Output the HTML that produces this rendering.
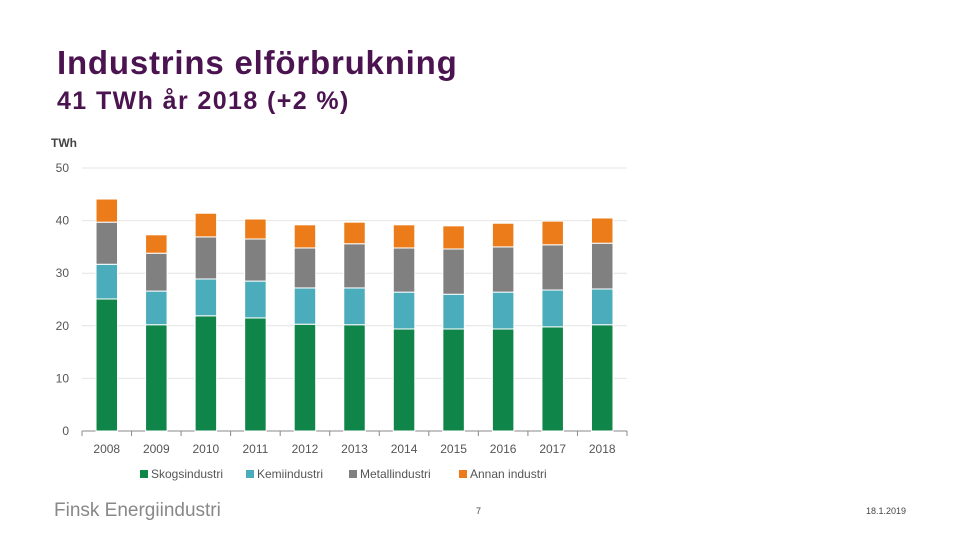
<!DOCTYPE html>
<html><head><meta charset="utf-8"><style>
body{margin:0;width:960px;height:540px;background:#fff;overflow:hidden;font-family:"Liberation Sans",sans-serif;position:relative}
.t{position:absolute;color:#4b1450;font-family:"Liberation Sans",sans-serif}
</style></head><body>
<div class="t" style="left:57px;top:44px;font-size:33px;font-weight:bold;letter-spacing:0.8px;">Industrins elförbrukning</div>
<div class="t" style="left:57px;top:87px;font-size:25px;font-weight:bold;letter-spacing:1.4px;">41 TWh år 2018 (+2 %)</div>
<svg id="c" width="960" height="540" style="position:absolute;left:0;top:0"></svg>
<div style="position:absolute;left:54px;top:500px;font-size:19px;color:#888;">Finsk Energiindustri</div>
<div style="position:absolute;left:476px;top:506px;font-size:9px;color:#444;">7</div>
<div style="position:absolute;left:866px;top:506px;font-size:9px;color:#444;">18.1.2019</div>
<script>
const years=["2008","2009","2010","2011","2012","2013","2014","2015","2016","2017","2018"];
const skog=[25.1,20.2,21.9,21.5,20.3,20.2,19.4,19.4,19.4,19.8,20.2];
const kemi=[6.6,6.4,7.0,7.0,6.9,7.0,7.0,6.6,7.0,7.0,6.8];
const metall=[8.0,7.2,8.0,8.0,7.6,8.4,8.4,8.6,8.6,8.6,8.7];
const annan=[4.4,3.5,4.5,3.8,4.4,4.1,4.4,4.4,4.5,4.5,4.8];
const ticks=[0,10,20,30,40,50];
const series=[{n:"Skogsindustri",v:skog,c:"#10854a"},{n:"Kemiindustri",v:kemi,c:"#4bacbc"},{n:"Metallindustri",v:metall,c:"#808080"},{n:"Annan industri",v:annan,c:"#ec7c1a"}];
const svg=document.getElementById('c');const NS="http://www.w3.org/2000/svg";
const y0=431,py=5.26,x0=82,x1=627,step=(x1-x0)/years.length,bw=21.5;
const Y=v=>y0-v*py, X=i=>x0+step*(i+0.5);
function mk(t,a,txt){const e=document.createElementNS(NS,t);for(const k in a)e.setAttribute(k,a[k]);if(txt!=null)e.textContent=txt;svg.appendChild(e);return e;}
let e=mk('text',{x:51,y:147,'font-size':12,'font-weight':'bold',fill:'#444'},'TWh');

ticks.forEach(t=>{
 if(t>0){const g=mk('line',{x1:x0,x2:x1,y1:Y(t),y2:Y(t),stroke:'#e4e4e4'});}
 const l=mk('text',{x:69,y:Y(t)+4,'font-size':12,fill:'#555','text-anchor':'end'},t);
 
});
const ax=mk('line',{x1:x0,x2:x1,y1:y0,y2:y0,stroke:'#888'});
for(let i=0;i<=years.length;i++){const tk=mk('line',{x1:x0+step*i,x2:x0+step*i,y1:y0,y2:y0+5,stroke:'#888'});}
years.forEach((yr,i)=>{
 let acc=0;
 series.forEach(s=>{const v=s.v[i];const r=mk('rect',{x:X(i)-bw/2,y:Y(acc+v),width:bw,height:v*py,fill:s.c,stroke:'#fff','stroke-width':1});
  acc+=v;});
 const l=mk('text',{x:X(i),y:453,'font-size':12,fill:'#555','text-anchor':'middle'},yr);
 
});
const lx=[140,246,349,459];
series.forEach((s,i)=>{
 const r=mk('rect',{x:lx[i],y:470,width:8,height:8,fill:s.c});
 const t=mk('text',{x:lx[i]+11,y:478,'font-size':12,fill:'#555'},s.n);
});
</script>
</body></html>
